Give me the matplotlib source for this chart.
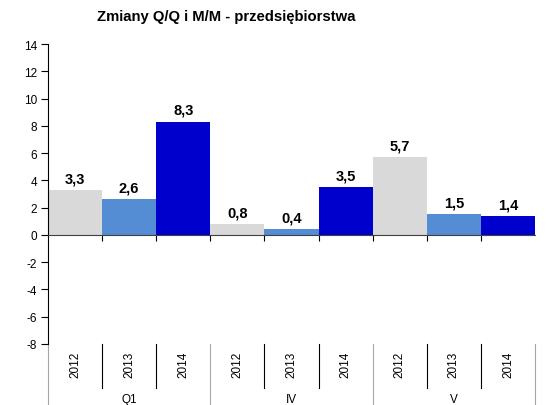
import matplotlib.pyplot as plt
import matplotlib.transforms as mtransforms

plt.rcParams['font.family'] = ['Liberation Sans', 'DejaVu Sans']
plt.rcParams['axes.unicode_minus'] = False

groups = ['Q1', 'IV', 'V']
years = ['2012', '2013', '2014']
values = [3.3, 2.6, 8.3, 0.8, 0.4, 3.5, 5.7, 1.5, 1.4]
labels = ['3,3', '2,6', '8,3', '0,8', '0,4', '3,5', '5,7', '1,5', '1,4']
colors = ['#D9D9D9', '#548DD4', '#0000CC']

fig = plt.figure(figsize=(5.48, 4.06), dpi=100)
ax = fig.add_axes([48/548, 1 - 345/406, 487/548, 300/406])

n = len(values)
xs = list(range(n))
bar_colors = [colors[i % 3] for i in xs]
ax.bar(xs, values, width=1.0, color=bar_colors, edgecolor='none')

for x, v, t in zip(xs, values, labels):
    ax.text(x, v + 0.35, t, ha='center', va='bottom', fontsize=10.5, fontweight='bold')

ax.set_xlim(-0.5, n - 0.5)
ax.set_ylim(-8, 14)
ax.set_yticks(range(-8, 15, 2))
ax.tick_params(axis='y', direction='out', length=5, labelsize=8.5, pad=3)

# x axis sits at zero with small tick marks at the bar boundaries
ax.spines['top'].set_visible(False)
ax.spines['right'].set_visible(False)
ax.spines['bottom'].set_position(('data', 0))
ax.spines['bottom'].set_linewidth(0.8)
ax.spines['bottom'].set_color('#404040')
ax.set_xticks([x + 0.5 for x in xs[:-1]])
ax.tick_params(axis='x', direction='out', length=4, labelbottom=False)

# two-level category labels below the plot
trans = mtransforms.blended_transform_factory(ax.transData, ax.transAxes)
for x in xs:
    ax.text(x, -0.067, years[x % 3], transform=trans, rotation=90,
            ha='center', va='center', fontsize=8.5, clip_on=False)
for g, name in enumerate(groups):
    ax.text(g * 3 + 1, -0.185, name, transform=trans,
            ha='center', va='center', fontsize=8.5, clip_on=False)

for x in xs:
    b = x + 0.5
    if (x + 1) % 3 == 0:
        ax.plot([b, b], [0, -0.21], transform=trans, color='#A6A6A6',
                lw=0.8, clip_on=False)
    else:
        ax.plot([b, b], [0, -0.147], transform=trans, color='black',
                lw=0.8, clip_on=False)
ax.plot([-0.5, -0.5], [0, -0.21], transform=trans, color='#A6A6A6',
        lw=0.8, clip_on=False)

fig.text(226/548, 1 - 17/406, 'Zmiany Q/Q i M/M - przedsiębiorstwa',
         ha='center', va='center', fontsize=10.7, fontweight='bold')

plt.savefig('out.png', dpi=100)
